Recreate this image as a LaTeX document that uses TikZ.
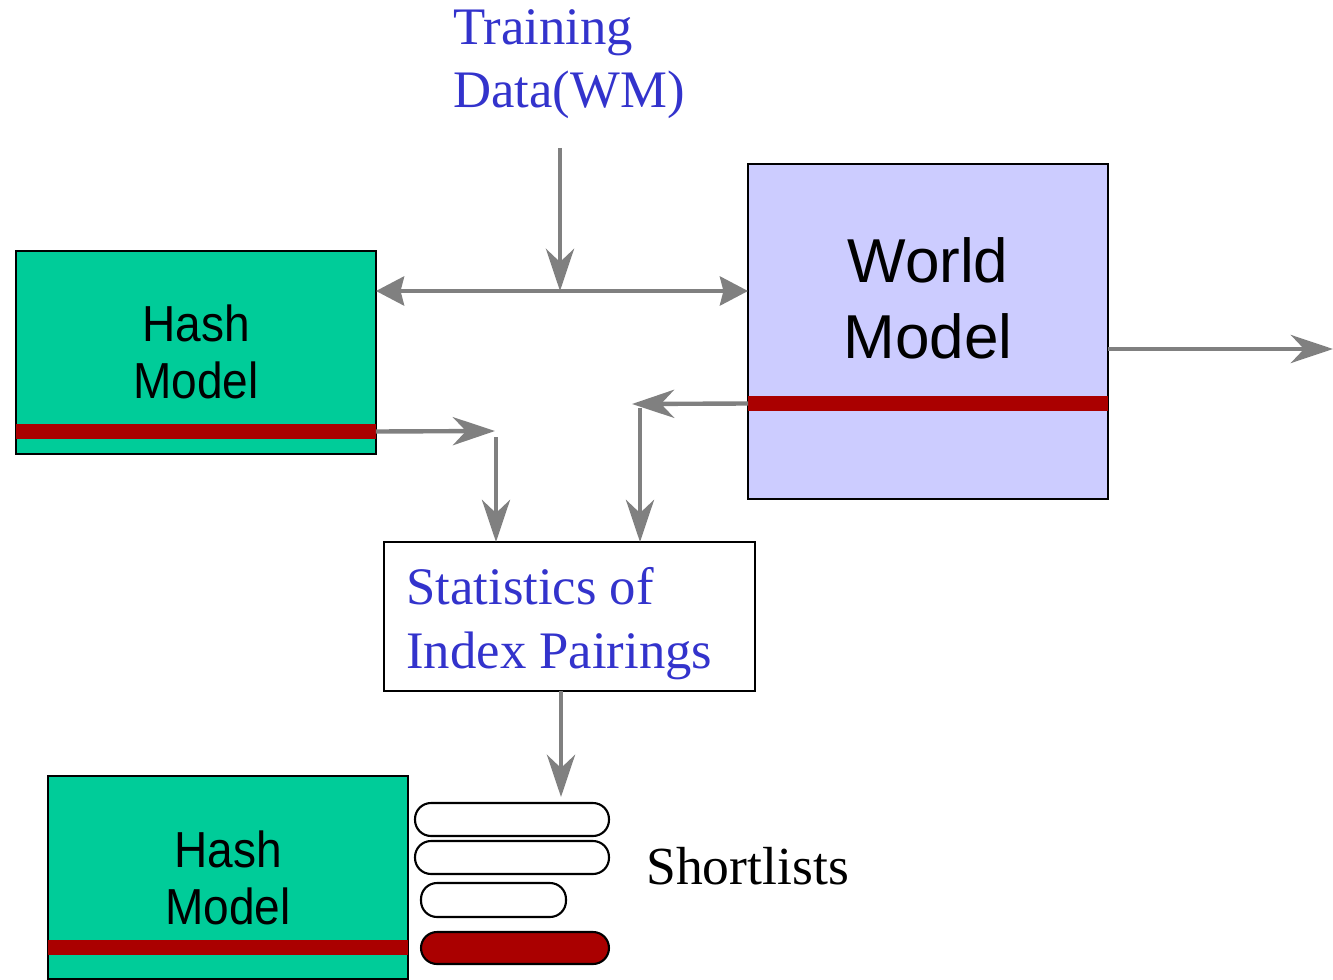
\documentclass[tikz,border=0pt]{standalone}
\usepackage{fontspec}
\setmainfont{Liberation Serif}
\newfontfamily\arialfont{Liberation Sans}
\usetikzlibrary{arrows.meta}

\definecolor{hashgreen}{RGB}{0,204,153}
\definecolor{worldblue}{RGB}{204,204,255}
\definecolor{barred}{RGB}{170,0,0}
\definecolor{arrgray}{RGB}{128,128,128}
\definecolor{textblue}{RGB}{51,51,204}

\newcommand{\tallword}[1]{\scalebox{1}[1.1]{#1}}

\tikzset{
  modelbox/.style={draw=black, line width=1.2pt, inner sep=0pt, outer sep=0pt},
  hashbox/.style={modelbox, fill=hashgreen, minimum width=7.2cm, minimum height=4.06cm},
  worldbox/.style={modelbox, fill=worldblue, minimum width=7.2cm, minimum height=6.7cm},
  statbox/.style={modelbox, fill=white, minimum width=7.42cm, minimum height=2.98cm},
  redbar/.style={fill=barred, inner sep=0pt, outer sep=0pt, minimum width=7.2cm, minimum height=0.3cm},
  pill/.style={draw=black, line width=1.2pt, rounded corners=0.32cm, inner sep=0pt},
  % multi-line labels are placed by the baseline of their last line
  hashtext/.style={font=\arialfont\fontsize{26.2}{32}\selectfont, align=center, inner sep=0pt, anchor=base},
  worldtext/.style={font=\arialfont\fontsize{35.3}{42.7}\selectfont, align=center, inner sep=0pt, anchor=base},
  serifblue/.style={font=\fontsize{30}{36.3}\selectfont, text=textblue, align=left, inner sep=0pt, anchor=base west},
  longtip/.style={-{Stealth[length=24pt,width=16pt,inset=7.5pt]}},
  flow/.style={draw=arrgray, line width=2.5pt},
}

\begin{document}
\begin{tikzpicture}[x=0.02cm, y=-0.02cm]
\useasboundingbox (0,0) rectangle (1333,980);

% upper hash model
\node[hashbox] (hash1) at (196,352.5) {};
\node[redbar] (bar1) at (196,431.5) {};
\node[hashtext] (hash1t) at (196,398) {\tallword{Hash}\\\tallword{Model}};

% world model
\node[worldbox] (world) at (928,331.5) {};
\node[redbar] (bar2) at (928,403.5) {};
\node[worldtext] (worldt) at (928,358) {World\\Model};

% statistics box
\node[statbox] (stats) at (569.5,616.5) {};
\node[serifblue] (statst) at (406,668) {Statistics of\\Index Pairings};

% training data label
\node[serifblue] (train) at (453,108) {Training\\Data(WM)};

% lower hash model
\node[hashbox] (hash2) at (228,877.5) {};
\node[redbar] (bar3) at (228,947.5) {};
\node[hashtext] (hash2t) at (228,924) {\tallword{Hash}\\\tallword{Model}};

% shortlists
\node[pill, minimum width=3.88cm, minimum height=0.66cm] (sl1) at (512,819.5) {};
\node[pill, minimum width=3.88cm, minimum height=0.66cm] (sl2) at (512,857.5) {};
\node[pill, minimum width=2.9cm, minimum height=0.68cm] (sl3) at (493.5,900) {};
\node[pill, fill=barred, minimum width=3.76cm, minimum height=0.64cm] (sl4) at (515,948) {};
\node[font=\fontsize{30.5}{36}\selectfont, inner sep=0pt, anchor=base west] (slt) at (646,884) {Shortlists};

% connector end points
\coordinate (tdin) at (560,148);
\coordinate (junc) at (560,291);
\coordinate (wout) at (1333,349);
\coordinate (hbend) at (495,431);
\coordinate (hdown) at (496,437);
\coordinate (wbend) at (632,404);
\coordinate (wdown) at (640,408);
\coordinate (sdown) at (561,797);

% connectors
\draw[flow, longtip] (tdin) -- (junc);
\draw[flow, {Stealth[length=16pt,width=16.5pt,inset=2pt]}-{Stealth[length=16pt,width=16.5pt,inset=2pt]}]
  (junc -| hash1.east) -- (junc -| world.west);
\draw[flow, longtip] (world.east |- wout) ++(0.1,0) -- (wout);
\draw[flow, longtip] (bar1.east) -- (hbend);
\draw[flow, longtip] (hdown) -- (hdown |- stats.north);
\draw[flow, longtip] (bar2.west) -- (wbend);
\draw[flow, longtip] (wdown) -- (wdown |- stats.north);
\draw[flow, longtip] (sdown |- stats.south) -- (sdown);
\end{tikzpicture}
\end{document}
